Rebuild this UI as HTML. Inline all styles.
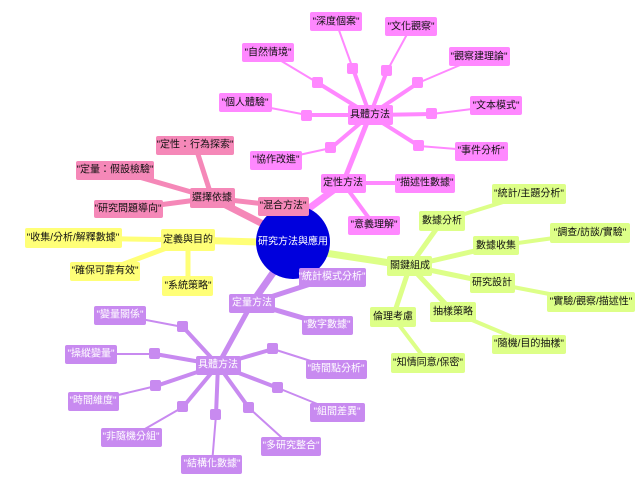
<!DOCTYPE html>
<html><head><meta charset="utf-8"><style>
html,body{margin:0;padding:0;background:#fff;}
svg{display:block;}
text{font-family:"Liberation Sans","Noto Sans CJK TC",sans-serif;font-size:10px;dominant-baseline:central;text-anchor:middle;}
</style></head><body>
<svg width="642" height="488" viewBox="0 0 642 488" xmlns="http://www.w3.org/2000/svg">
<g stroke-linecap="round" fill="none">
<!-- magenta -->
<g stroke="#ff88ff">
<line x1="300" y1="215" x2="343" y2="183" stroke-width="7"/>
<line x1="343" y1="183" x2="370" y2="115" stroke-width="5"/>
<line x1="343" y1="183" x2="425" y2="183" stroke-width="4"/>
<line x1="343" y1="183" x2="374" y2="225" stroke-width="4"/>
<line x1="370" y1="115" x2="353" y2="69" stroke-width="4"/><line x1="353" y1="69" x2="336" y2="22" stroke-width="2"/>
<line x1="370" y1="115" x2="387" y2="71" stroke-width="4"/><line x1="387" y1="71" x2="411" y2="27" stroke-width="2"/>
<line x1="370" y1="115" x2="418" y2="83" stroke-width="4"/><line x1="418" y1="83" x2="479" y2="57" stroke-width="2"/>
<line x1="370" y1="115" x2="432" y2="114" stroke-width="4"/><line x1="432" y1="114" x2="496" y2="106" stroke-width="2"/>
<line x1="370" y1="115" x2="419" y2="146" stroke-width="4"/><line x1="419" y1="146" x2="481" y2="151" stroke-width="2"/>
<line x1="370" y1="115" x2="318" y2="83" stroke-width="4"/><line x1="318" y1="83" x2="268" y2="53" stroke-width="2"/>
<line x1="370" y1="115" x2="307" y2="115" stroke-width="4"/><line x1="307" y1="115" x2="245" y2="103" stroke-width="2"/>
<line x1="370" y1="115" x2="331" y2="148" stroke-width="4"/><line x1="331" y1="148" x2="276" y2="160" stroke-width="2"/>
</g>
<!-- pink -->
<g stroke="#f588b8">
<line x1="265" y1="225" x2="212" y2="198" stroke-width="7"/>
<line x1="212" y1="198" x2="195" y2="145" stroke-width="5"/>
<line x1="212" y1="198" x2="115" y2="170" stroke-width="5"/>
<line x1="212" y1="198" x2="128" y2="209" stroke-width="5"/>
<line x1="212" y1="198" x2="283" y2="206" stroke-width="5"/>
</g>
<!-- yellow -->
<g stroke="#ffff77">
<line x1="260" y1="242" x2="188" y2="240" stroke-width="7"/>
<line x1="188" y1="240" x2="73" y2="238" stroke-width="5"/>
<line x1="188" y1="240" x2="105" y2="271" stroke-width="5"/>
<line x1="188" y1="240" x2="188" y2="286" stroke-width="5"/>
</g>
<!-- green -->
<g stroke="#ddff88">
<line x1="325" y1="253" x2="410" y2="266" stroke-width="7"/>
<line x1="410" y1="266" x2="442" y2="221" stroke-width="5"/><line x1="442" y1="221" x2="529" y2="194" stroke-width="4"/>
<line x1="410" y1="266" x2="496" y2="246" stroke-width="5"/><line x1="496" y1="246" x2="590" y2="233" stroke-width="4"/>
<line x1="410" y1="266" x2="492" y2="283" stroke-width="5"/><line x1="492" y1="283" x2="591" y2="302" stroke-width="4"/>
<line x1="410" y1="266" x2="453" y2="312" stroke-width="5"/><line x1="453" y1="312" x2="529" y2="344" stroke-width="4"/>
<line x1="410" y1="266" x2="393" y2="317" stroke-width="5"/><line x1="393" y1="317" x2="428" y2="363" stroke-width="4"/>
</g>
<!-- purple -->
<g stroke="#c88af0">
<line x1="275" y1="270" x2="252" y2="303" stroke-width="7"/>
<line x1="252" y1="303" x2="332" y2="277" stroke-width="5"/>
<line x1="252" y1="303" x2="327" y2="325" stroke-width="5"/>
<line x1="252" y1="303" x2="218" y2="365" stroke-width="5"/>
<line x1="218" y1="365" x2="183" y2="327" stroke-width="4"/><line x1="183" y1="327" x2="120" y2="315" stroke-width="2"/>
<line x1="218" y1="365" x2="155" y2="354" stroke-width="4"/><line x1="155" y1="354" x2="91" y2="354" stroke-width="2"/>
<line x1="218" y1="365" x2="156" y2="386" stroke-width="4"/><line x1="156" y1="386" x2="93" y2="401" stroke-width="2"/>
<line x1="218" y1="365" x2="183" y2="407" stroke-width="4"/><line x1="183" y1="407" x2="131" y2="437" stroke-width="2"/>
<line x1="218" y1="365" x2="216" y2="415" stroke-width="4"/><line x1="216" y1="415" x2="212" y2="464" stroke-width="2"/>
<line x1="218" y1="365" x2="249" y2="408" stroke-width="4"/><line x1="249" y1="408" x2="291" y2="446" stroke-width="2"/>
<line x1="218" y1="365" x2="278" y2="388" stroke-width="4"/><line x1="278" y1="388" x2="337" y2="412" stroke-width="2"/>
<line x1="218" y1="365" x2="273" y2="349" stroke-width="4"/><line x1="273" y1="349" x2="336" y2="369" stroke-width="2"/>
</g>
</g>

<!-- small squares -->
<g fill="#ff88ff">
<rect x="347" y="63" width="11" height="11" rx="2"/><rect x="381" y="65" width="11" height="11" rx="2"/>
<rect x="412" y="77" width="11" height="11" rx="2"/><rect x="426" y="108" width="11" height="11" rx="2"/>
<rect x="413" y="140" width="11" height="11" rx="2"/><rect x="312" y="77" width="11" height="11" rx="2"/>
<rect x="301" y="110" width="11" height="11" rx="2"/><rect x="325" y="142" width="11" height="11" rx="2"/>
</g>
<g fill="#c88af0">
<rect x="177" y="321" width="11" height="11" rx="2"/><rect x="149" y="348" width="11" height="11" rx="2"/>
<rect x="150" y="380" width="11" height="11" rx="2"/><rect x="177" y="401" width="11" height="11" rx="2"/>
<rect x="210" y="409" width="11" height="11" rx="2"/><rect x="243" y="402" width="11" height="11" rx="2"/>
<rect x="272" y="382" width="11" height="11" rx="2"/><rect x="267" y="343" width="11" height="11" rx="2"/>
</g>

<circle cx="293" cy="242" r="37" fill="#0000dd"/>
<text x="293" y="242" fill="#fff" font-size="10">研究方法與應用</text>

<!-- magenta nodes -->
<g fill="#ff88ff">
<rect x="321" y="174" width="45" height="19" rx="2"/><rect x="395" y="174" width="60" height="19" rx="2"/>
<rect x="348" y="216" width="52" height="19" rx="2"/><rect x="348" y="105" width="45" height="20" rx="2"/>
<rect x="310" y="12" width="52" height="19" rx="2"/><rect x="385" y="17" width="52" height="19" rx="2"/>
<rect x="449" y="47" width="61" height="19" rx="2"/><rect x="470" y="96" width="52" height="19" rx="2"/>
<rect x="455" y="142" width="53" height="19" rx="2"/><rect x="242" y="43" width="52" height="19" rx="2"/>
<rect x="219" y="93" width="53" height="19" rx="2"/><rect x="250" y="151" width="52" height="19" rx="2"/>
</g>
<g fill="#111">
<text x="343" y="183">定性方法</text><text x="425" y="183">"描述性數據"</text>
<text x="374" y="225">"意義理解"</text><text x="370" y="115">具體方法</text>
<text x="336" y="22">"深度個案"</text><text x="411" y="27">"文化觀察"</text>
<text x="479" y="57">"觀察建理論"</text><text x="496" y="106">"文本模式"</text>
<text x="481" y="151">"事件分析"</text><text x="268" y="53">"自然情境"</text>
<text x="245" y="103">"個人體驗"</text><text x="276" y="160">"協作改進"</text>
</g>

<!-- pink nodes -->
<g fill="#f588b8">
<rect x="190" y="188" width="45" height="20" rx="2"/><rect x="156" y="136" width="78" height="19" rx="2"/>
<rect x="76" y="161" width="78" height="19" rx="2"/><rect x="94" y="200" width="69" height="18" rx="2"/>
<rect x="258" y="197" width="51" height="19" rx="2"/>
</g>
<g fill="#111">
<text x="212" y="198">選擇依據</text><text x="195" y="145">"定性：行為探索"</text>
<text x="115" y="170">"定量：假設檢驗"</text><text x="128" y="209">"研究問題導向"</text>
<text x="283" y="206">"混合方法"</text>
</g>

<!-- yellow nodes -->
<g fill="#ffff77">
<rect x="161" y="229" width="54" height="22" rx="2"/><rect x="25" y="228" width="97" height="20" rx="2"/>
<rect x="70" y="262" width="70" height="19" rx="2"/><rect x="162" y="276" width="51" height="20" rx="2"/>
</g>
<g fill="#111">
<text x="188" y="240">定義與目的</text><text x="73" y="238">"收集/分析/解釋數據"</text>
<text x="105" y="271">"確保可靠有效"</text><text x="188" y="286">"系統策略"</text>
</g>

<!-- green nodes -->
<g fill="#ddff88">
<rect x="419" y="211" width="46" height="20" rx="2"/><rect x="492" y="184" width="74" height="20" rx="2"/>
<rect x="473" y="236" width="46" height="19" rx="2"/><rect x="550" y="223" width="80" height="20" rx="2"/>
<rect x="387" y="256" width="45" height="20" rx="2"/><rect x="470" y="273" width="45" height="20" rx="2"/>
<rect x="547" y="292" width="88" height="20" rx="2"/><rect x="430" y="302" width="46" height="20" rx="2"/>
<rect x="492" y="335" width="74" height="19" rx="2"/><rect x="370" y="307" width="46" height="20" rx="2"/>
<rect x="391" y="353" width="74" height="20" rx="2"/>
</g>
<g fill="#111">
<text x="442" y="221">數據分析</text><text x="529" y="194">"統計/主題分析"</text>
<text x="496" y="246">數據收集</text><text x="590" y="233">"調查/訪談/實驗"</text>
<text x="410" y="266">關鍵組成</text><text x="492" y="283">研究設計</text>
<text x="591" y="302">"實驗/觀察/描述性"</text><text x="453" y="312">抽樣策略</text>
<text x="529" y="344">"隨機/目的抽樣"</text><text x="393" y="317">倫理考慮</text>
<text x="428" y="363">"知情同意/保密"</text>
</g>

<!-- purple nodes -->
<g fill="#c88af0">
<rect x="229" y="294" width="46" height="19" rx="2"/><rect x="299" y="268" width="67" height="19" rx="2"/>
<rect x="302" y="316" width="51" height="19" rx="2"/><rect x="196" y="356" width="45" height="19" rx="2"/>
<rect x="94" y="306" width="52" height="19" rx="2"/><rect x="65" y="345" width="52" height="19" rx="2"/>
<rect x="68" y="392" width="51" height="19" rx="2"/><rect x="101" y="428" width="61" height="19" rx="2"/>
<rect x="181" y="455" width="61" height="19" rx="2"/><rect x="261" y="437" width="60" height="19" rx="2"/>
<rect x="310" y="403" width="55" height="19" rx="2"/><rect x="306" y="360" width="61" height="19" rx="2"/>
</g>
<g fill="#fff">
<text x="252" y="303">定量方法</text><text x="332" y="277">"統計模式分析"</text>
<text x="327" y="325">"數字數據"</text><text x="218" y="365">具體方法</text>
<text x="120" y="315">"變量關係"</text><text x="91" y="354">"操縱變量"</text>
<text x="93" y="401">"時間維度"</text><text x="131" y="437">"非隨機分組"</text>
<text x="212" y="464">"結構化數據"</text><text x="291" y="446">"多研究整合"</text>
<text x="337" y="412">"組間差異"</text><text x="336" y="369">"時間點分析"</text>
</g>
</svg>
</body></html>
